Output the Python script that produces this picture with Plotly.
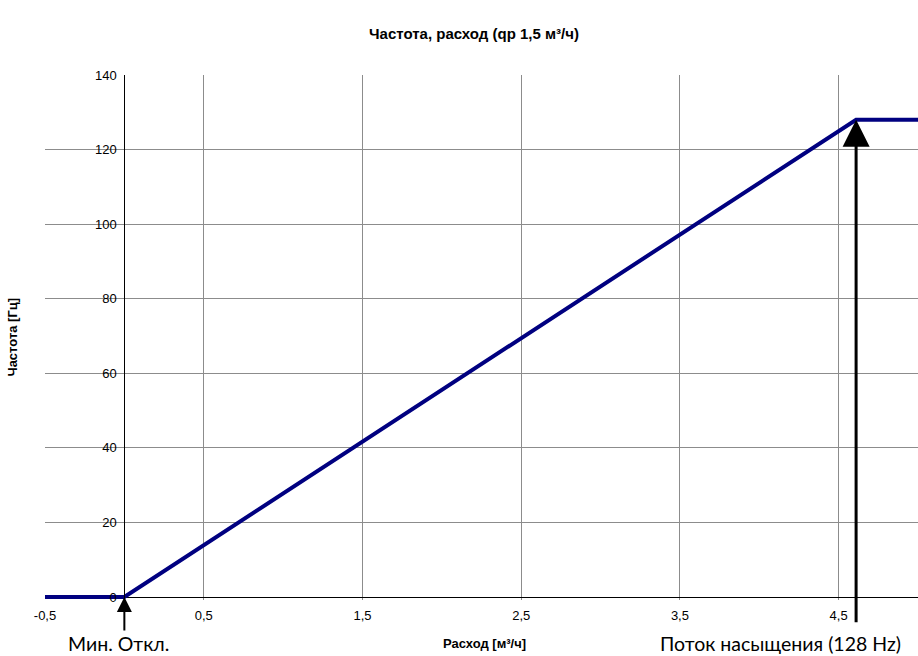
import plotly.graph_objects as go

# ---- data ----
flow = [-0.5, 0.0, 4.61, 5.0]          # Расход [м³/ч]
freq = [0, 0, 128, 128]                # Частота [Гц]
x_tickvals = [-0.5, 0.5, 1.5, 2.5, 3.5, 4.5]
x_ticktext = ["-0,5", "0,5", "1,5", "2,5", "3,5", "4,5"]
y_tickvals = [0, 20, 40, 60, 80, 100, 120, 140]
x_range = [-0.5, 5.0]
y_range = [-0.8, 140]
min_off_flow = 0.0
sat_flow = 4.61
sat_freq = 128

title_text = "Частота, расход (qp 1,5 м³/ч)"
x_title = "Расход [м³/ч]"
y_title = "Частота [Гц]"
min_label = "Мин. Откл."
sat_label = "Поток насыщения (128 Hz)"

AX_FONT = "Liberation Sans, Arial, sans-serif"
NOTE_FONT = "Lato, Carlito, Calibri, sans-serif"
GRID = "#8c8c8c"

W, H = 918, 656

fig = go.Figure()
fig.add_trace(go.Scatter(
    x=flow, y=freq, mode="lines",
    line=dict(color="#000080", width=4),
    showlegend=False, hoverinfo="skip",
))

ypos = (0 - x_range[0]) / (x_range[1] - x_range[0])

fig.update_layout(
    width=W, height=H,
    margin=dict(l=45, r=0, t=75, b=56),
    paper_bgcolor="white", plot_bgcolor="white",
    showlegend=False,
    title=dict(text="<b>" + title_text + "</b>", x=474 / W, xref="container",
               y=1 - 34 / H, yref="container", xanchor="center", yanchor="middle",
               font=dict(family=AX_FONT, size=15, color="black")),
    xaxis=dict(range=x_range, tickvals=x_tickvals, ticktext=x_ticktext,
               showgrid=True, gridcolor=GRID, gridwidth=1,
               zeroline=False, showline=False,
               ticks="outside", ticklen=3, tickcolor="rgba(0,0,0,0)",
               tickfont=dict(family=AX_FONT, size=13, color="black")),
    yaxis=dict(range=y_range, tickvals=y_tickvals,
               showgrid=True, gridcolor=GRID, gridwidth=1,
               zeroline=True, zerolinecolor="black", zerolinewidth=1,
               anchor="free", position=ypos,
               showline=True, linecolor="black", linewidth=1,
               ticks="outside", ticklen=5, tickcolor="rgba(0,0,0,0)",
               tickfont=dict(family=AX_FONT, size=13, color="black")),
)

annotations = [
    # arrows
    dict(x=min_off_flow, y=0, xref="x", yref="y", text="", showarrow=True,
         arrowhead=2, arrowsize=1.5, arrowwidth=2, arrowcolor="black",
         ax=0, ay=35, standoff=0),
    dict(x=sat_flow, y=sat_freq, xref="x", yref="y", text="", showarrow=True,
         arrowhead=2, arrowsize=1.8, arrowwidth=3, arrowcolor="black",
         ax=0, ay=504, standoff=0),
    # labels
    dict(x=min_off_flow, y=0, xref="x", yref="y", text=min_label, showarrow=False,
         xshift=-6, yshift=-46, xanchor="center", yanchor="middle",
         font=dict(family=NOTE_FONT, size=19.5, color="black")),
    dict(x=sat_flow, y=0, xref="x", yref="y", text=sat_label, showarrow=False,
         xshift=-76, yshift=-46, xanchor="center", yanchor="middle",
         font=dict(family=NOTE_FONT, size=19.5, color="black")),
    # axis titles
    dict(x=0.5, y=0, xref="paper", yref="y", text="<b>" + x_title + "</b>", showarrow=False,
         xshift=3, yshift=-46, xanchor="center", yanchor="middle",
         font=dict(family=AX_FONT, size=13, color="black")),
    dict(x=0, y=0.5, xref="paper", yref="paper", text="<b>" + y_title + "</b>", showarrow=False,
         xshift=-33, textangle=-90, xanchor="center", yanchor="middle",
         font=dict(family=AX_FONT, size=13, color="black")),
]
fig.update_layout(annotations=annotations)

fig.write_html(
    "out.html",
    config={"displayModeBar": False},
    post_script="document.body.style.margin='0';document.body.style.overflow='hidden';",
)
